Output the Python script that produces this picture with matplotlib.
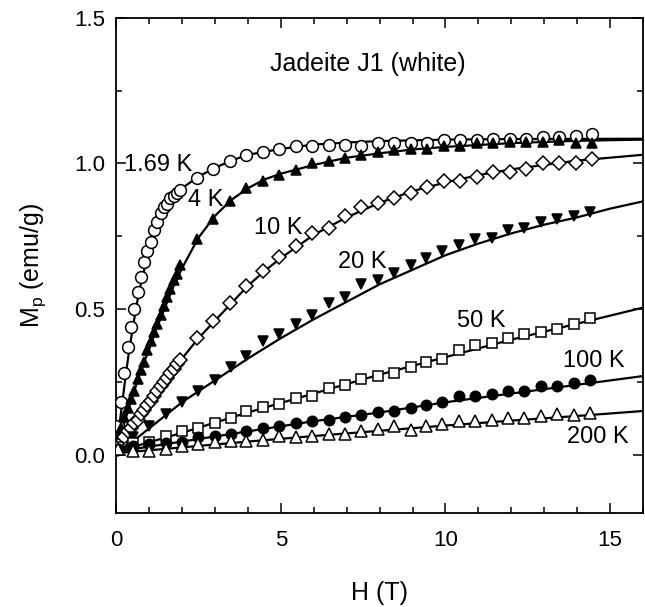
import matplotlib
matplotlib.use("Agg")
import matplotlib.pyplot as plt
from matplotlib.ticker import MultipleLocator

plt.rcParams['font.family'] = ['Liberation Sans', 'DejaVu Sans']
plt.rcParams['mathtext.fontset'] = 'custom'
plt.rcParams['mathtext.rm'] = 'Liberation Sans'
plt.rcParams['mathtext.it'] = 'Liberation Sans:italic'

# field values (T)
h_dense = [0.05, 0.15, 0.25, 0.35, 0.45, 0.55, 0.65, 0.75, 0.85, 0.95,
           1.05, 1.15, 1.25, 1.35, 1.45, 1.55, 1.65, 1.75, 1.85, 1.95,
           2.45, 2.95, 3.45, 3.95, 4.45, 4.95, 5.45, 5.95, 6.45, 6.95,
           7.45, 7.95, 8.45, 8.95, 9.45, 9.95, 10.45, 10.95, 11.45, 11.95,
           12.45, 12.95, 13.45, 13.95, 14.45]
h_sparse = [0.05, 0.5, 1.0, 1.5, 2.0, 2.5, 3.0, 3.5, 3.95, 4.45,
            4.95, 5.45, 5.95, 6.45, 6.95, 7.45, 7.95, 8.45, 8.95, 9.4,
            9.9, 10.4, 10.9, 11.4, 11.9, 12.4, 12.9, 13.4, 13.9, 14.4]

# measured magnetization (emu/g)
m_169 = [0.10, 0.18, 0.28, 0.37, 0.44, 0.50, 0.56, 0.61, 0.66, 0.70,
         0.73, 0.77, 0.80, 0.83, 0.85, 0.86, 0.88, 0.89, 0.90, 0.91,
         0.95, 0.98, 1.01, 1.03, 1.04, 1.05, 1.06, 1.06, 1.065, 1.065,
         1.06, 1.07, 1.07, 1.07, 1.07, 1.08, 1.08, 1.08, 1.085, 1.085,
         1.085, 1.09, 1.09, 1.095, 1.10]
m_4 = [0.05, 0.09, 0.13, 0.16, 0.19, 0.22, 0.26, 0.29, 0.32, 0.36,
       0.39, 0.42, 0.45, 0.48, 0.51, 0.54, 0.57, 0.60, 0.62, 0.65,
       0.74, 0.81, 0.87, 0.915, 0.94, 0.96, 0.976, 1.0, 1.01, 1.02,
       1.03, 1.04, 1.045, 1.05, 1.05, 1.06, 1.06, 1.07, 1.07, 1.075,
       1.075, 1.075, 1.08, 1.07, 1.07]
m_10 = [0.02, 0.04, 0.06, 0.08, 0.09, 0.11, 0.12, 0.14, 0.155, 0.17,
        0.185, 0.20, 0.22, 0.235, 0.25, 0.265, 0.28, 0.295, 0.31, 0.325,
        0.40, 0.46, 0.52, 0.58, 0.63, 0.68, 0.715, 0.76, 0.78, 0.82,
        0.85, 0.865, 0.88, 0.90, 0.92, 0.94, 0.94, 0.955, 0.97, 0.97,
        0.98, 1.0, 1.0, 1.0, 1.015]
m_20 = [0.02, 0.06, 0.10, 0.14, 0.18, 0.22, 0.255, 0.30, 0.34, 0.39,
        0.415, 0.45, 0.48, 0.52, 0.54, 0.585, 0.60, 0.625, 0.65, 0.675,
        0.70, 0.72, 0.74, 0.745, 0.77, 0.78, 0.80, 0.81, 0.82, 0.835]
m_50 = [0.025, 0.04, 0.045, 0.065, 0.08, 0.09, 0.11, 0.125, 0.15, 0.165,
        0.175, 0.195, 0.20, 0.23, 0.24, 0.26, 0.27, 0.28, 0.30, 0.32,
        0.33, 0.36, 0.375, 0.385, 0.40, 0.415, 0.42, 0.43, 0.45, 0.47]
m_100 = [0.02, 0.03, 0.035, 0.04, 0.045, 0.06, 0.065, 0.07, 0.08, 0.09,
         0.10, 0.11, 0.115, 0.12, 0.13, 0.135, 0.145, 0.15, 0.16, 0.17,
         0.18, 0.20, 0.20, 0.21, 0.22, 0.22, 0.235, 0.235, 0.245, 0.255]
m_200 = [0.02, 0.013, 0.013, 0.02, 0.03, 0.037, 0.044, 0.047, 0.047, 0.05,
         0.063, 0.06, 0.063, 0.07, 0.07, 0.08, 0.088, 0.097, 0.085, 0.10,
         0.105, 0.115, 0.117, 0.12, 0.125, 0.125, 0.133, 0.14, 0.137, 0.143]

# fitted curves
fit_h_169 = [0, 0.1, 0.2, 0.3, 0.4, 0.5, 0.6, 0.7, 0.8, 1.0, 1.2, 1.4, 1.6,
             1.8, 2.0, 2.5, 3.0, 3.5, 4.0, 5.0, 6.0, 7.0, 8.0, 10.0, 12.0, 16.0]
fit_m_169 = [0, 0.10, 0.19, 0.28, 0.36, 0.43, 0.50, 0.56, 0.61, 0.70, 0.77,
             0.82, 0.86, 0.89, 0.915, 0.955, 0.985, 1.01, 1.03, 1.05, 1.065,
             1.072, 1.077, 1.082, 1.084, 1.085]
fit_h_4 = [0, 0.25, 0.5, 0.75, 1.0, 1.25, 1.5, 1.75, 2.0, 2.5, 3.0, 3.5, 4.0,
           4.5, 5.0, 6.0, 7.0, 8.0, 9.0, 10.0, 12.0, 14.0, 16.0]
fit_m_4 = [0, 0.11, 0.20, 0.29, 0.36, 0.44, 0.51, 0.58, 0.64, 0.745, 0.82,
           0.875, 0.915, 0.945, 0.965, 0.995, 1.02, 1.035, 1.048, 1.057,
           1.07, 1.078, 1.082]
fit_h_10 = [0, 0.5, 1, 1.5, 2, 2.5, 3, 3.5, 4, 4.5, 5, 6, 7, 8, 9, 10, 11,
            12, 13, 14, 15, 16]
fit_m_10 = [0, 0.10, 0.18, 0.26, 0.33, 0.40, 0.46, 0.52, 0.58, 0.63, 0.675,
            0.755, 0.815, 0.865, 0.905, 0.935, 0.96, 0.98, 0.995, 1.01, 1.02,
            1.03]
fit_h_20 = [0, 1, 2, 3, 4, 5, 6, 7, 8, 9, 10, 11, 12, 13, 14, 15, 16]
fit_m_20 = [0, 0.09, 0.18, 0.255, 0.33, 0.40, 0.465, 0.525, 0.585, 0.635,
            0.685, 0.725, 0.76, 0.79, 0.815, 0.845, 0.87]
fit_h_hi = [0, 2, 4, 6, 8, 10, 12, 14, 16]
fit_m_50 = [0.01, 0.075, 0.145, 0.21, 0.275, 0.335, 0.395, 0.45, 0.505]
fit_m_100 = [0.01, 0.045, 0.08, 0.115, 0.145, 0.18, 0.21, 0.24, 0.27]
fit_m_200 = [0.005, 0.025, 0.045, 0.064, 0.082, 0.1, 0.117, 0.133, 0.15]

series = [
    (h_dense, m_169, fit_h_169, fit_m_169, 'o', 'white', 8.5),
    (h_dense, m_4, fit_h_4, fit_m_4, '^', 'black', 7.5),
    (h_dense, m_10, fit_h_10, fit_m_10, 'D', 'white', 7),
    (h_sparse, m_20, fit_h_20, fit_m_20, 'v', 'black', 7.5),
    (h_sparse, m_50, fit_h_hi, fit_m_50, 's', 'white', 7.5),
    (h_sparse, m_100, fit_h_hi, fit_m_100, 'o', 'black', 7.5),
    (h_sparse, m_200, fit_h_hi, fit_m_200, '^', 'white', 8),
]

labels = ['1.69 K', '4 K', '10 K', '20 K', '50 K', '100 K', '200 K']
label_pos = [(1.29, 0.995), (2.73, 0.875), (4.92, 0.78), (7.48, 0.66),
             (11.08, 0.46), (14.5, 0.323), (14.62, 0.061)]

fig = plt.figure(figsize=(6.45, 6.07), dpi=100)
ax = fig.add_axes([0.18, 0.155, 0.817, 0.8155])

for h, m, fh, fm, mk, fc, ms in series:
    ax.plot(fh, fm, color='black', lw=1.6, zorder=2)
    ax.plot(h, m, linestyle='none', marker=mk, markersize=ms,
            markerfacecolor=fc, markeredgecolor='black', markeredgewidth=1.1,
            zorder=3)

for text, (x, y) in zip(labels, label_pos):
    ax.text(x, y, text, fontsize=17, ha='center', va='center', zorder=4)

ax.text(7.63, 1.343, 'Jadeite J1 (white)', fontsize=18, ha='center', va='center')

ax.set_xlim(0, 16)
ax.set_ylim(-0.2, 1.5)
ax.xaxis.set_major_locator(MultipleLocator(5))
ax.xaxis.set_minor_locator(MultipleLocator(1))
ax.yaxis.set_major_locator(MultipleLocator(0.5))
ax.yaxis.set_minor_locator(MultipleLocator(0.25))
ax.xaxis.set_major_formatter(plt.FuncFormatter(lambda v, p: f'{v:.0f}'))
ax.yaxis.set_major_formatter(plt.FuncFormatter(lambda v, p: f'{v:.1f}'))

ax.tick_params(which='both', direction='in', top=True, right=True, width=1.1)
ax.tick_params(which='major', length=7, labelsize=16)
ax.tick_params(which='minor', length=4)
ax.tick_params(axis='x', which='major', pad=12)
ax.tick_params(axis='y', which='major', pad=8)
for s in ax.spines.values():
    s.set_linewidth(1.3)

ax.set_xlabel('H (T)', fontsize=18, labelpad=22)
ax.set_ylabel('M$_\\mathrm{p}$ (emu/g)', fontsize=18, labelpad=19)

fig.savefig('out.png', dpi=100)
